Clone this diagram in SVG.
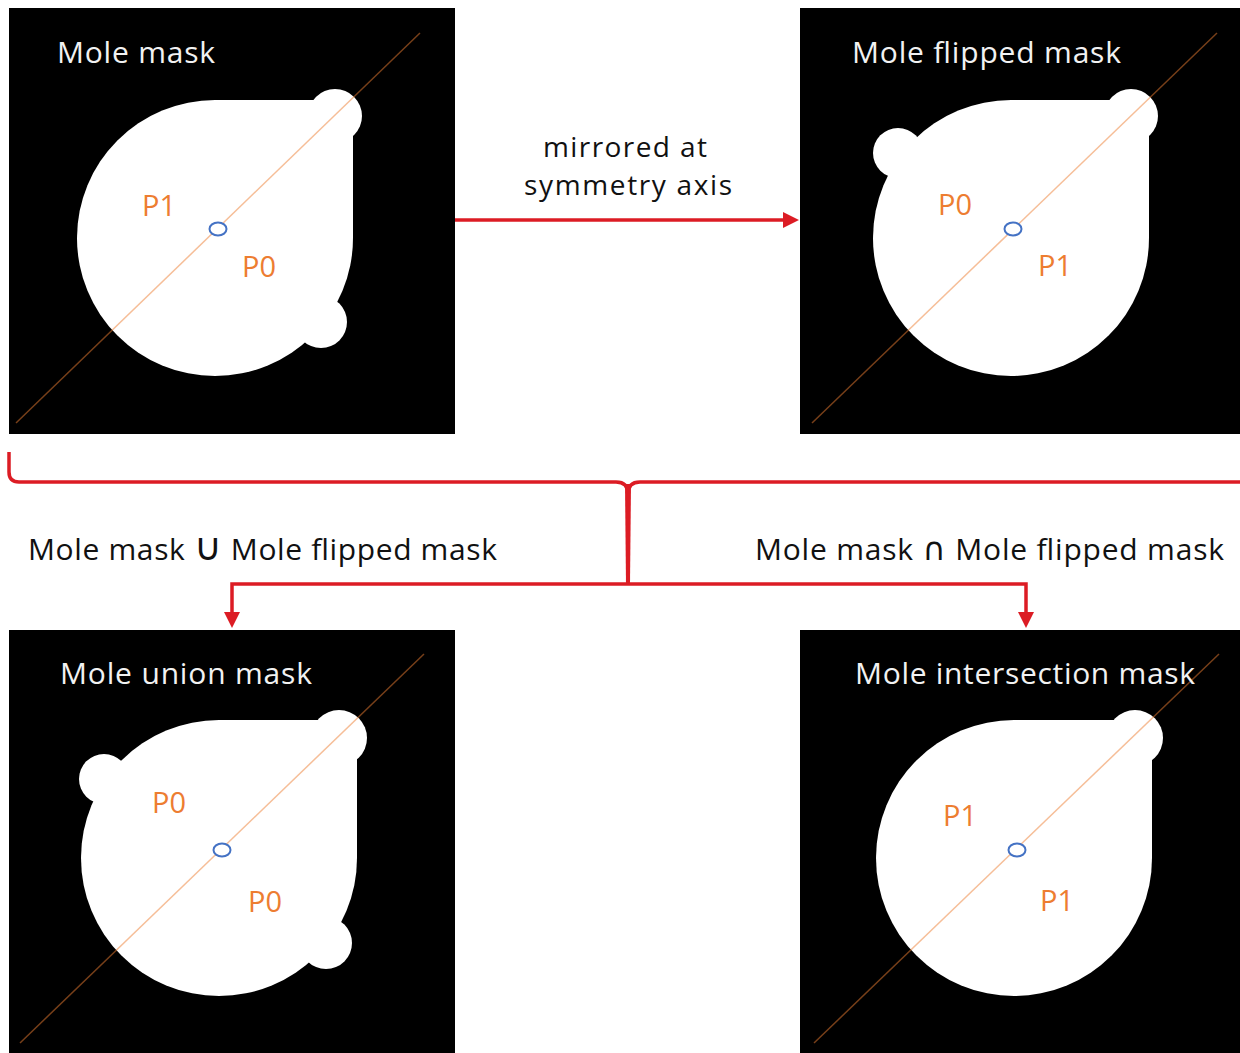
<svg xmlns="http://www.w3.org/2000/svg" width="1240" height="1053" viewBox="0 0 1240 1053">
<defs>
<style>
.panel{fill:#000}
.blob{fill:#fff}
.axis{stroke:#ED7D31;stroke-opacity:0.5;stroke-width:1.5;fill:none}
.ctr{fill:#fff;stroke:#4472C4;stroke-width:2}
.title{font-family:"Open Sans","DejaVu Sans",sans-serif;font-size:30px;fill:#f2f2f2}
.p{font-family:"Open Sans","DejaVu Sans",sans-serif;font-size:29px;fill:#ED7D31}
.lbl{font-family:"Open Sans","DejaVu Sans",sans-serif;font-size:30px;fill:#111}
.mid{font-family:"Open Sans","DejaVu Sans",sans-serif;font-size:28px;fill:#111}
.op{font-family:"DejaVu Sans",sans-serif}
.con{stroke:#DC1C24;stroke-width:3.5;fill:none}
</style>
<marker id="ah" viewBox="0 0 16 16" refX="8" refY="8" markerWidth="16" markerHeight="16" markerUnits="userSpaceOnUse" orient="auto">
<path d="M0,0 L16,8 L0,16 Z" fill="#DC1C24"/>
</marker>
</defs>

<g id="mole-mask">
<rect class="panel" x="9" y="8" width="446" height="426"/>
<path class="blob" d="M215,100 H353 V238 A138,138 0 1 1 215,100 Z"/>
<circle class="blob" cx="335" cy="116" r="27"/>
<circle class="blob" cx="321" cy="322" r="26"/>
<line class="axis" x1="16" y1="423" x2="420" y2="33"/>
<ellipse class="ctr" cx="218" cy="229" rx="8.5" ry="6.5"/>
<text class="title" x="57" y="63" textLength="158">Mole mask</text>
<text class="p" x="142" y="216">P1</text>
<text class="p" x="242" y="277">P0</text>
</g>

<g id="mole-flipped-mask">
<rect class="panel" x="800" y="8" width="440" height="426"/>
<path class="blob" d="M1011,100 H1149 V238 A138,138 0 1 1 1011,100 Z"/>
<circle class="blob" cx="1131" cy="116" r="27"/>
<circle class="blob" cx="898" cy="153" r="25"/>
<line class="axis" x1="812" y1="423" x2="1217" y2="33"/>
<ellipse class="ctr" cx="1013" cy="229" rx="8.5" ry="6.5"/>
<text class="title" x="852" y="63" textLength="269">Mole flipped mask</text>
<text class="p" x="938" y="215">P0</text>
<text class="p" x="1038" y="276">P1</text>
</g>

<g id="mole-union-mask">
<rect class="panel" x="9" y="630" width="446" height="423"/>
<path class="blob" d="M219,720 H357 V858 A138,138 0 1 1 219,720 Z"/>
<circle class="blob" cx="339" cy="738" r="28"/>
<circle class="blob" cx="104" cy="779" r="25"/>
<circle class="blob" cx="326" cy="943" r="26"/>
<line class="axis" x1="20" y1="1043" x2="424" y2="654"/>
<ellipse class="ctr" cx="222" cy="850" rx="8.5" ry="6.5"/>
<text class="title" x="60" y="684" textLength="252">Mole union mask</text>
<text class="p" x="152" y="813">P0</text>
<text class="p" x="248" y="912">P0</text>
</g>

<g id="mole-intersection-mask">
<rect class="panel" x="800" y="630" width="440" height="423"/>
<path class="blob" d="M1014,720 H1152 V858 A138,138 0 1 1 1014,720 Z"/>
<circle class="blob" cx="1135" cy="738" r="28"/>
<line class="axis" x1="814" y1="1043" x2="1219" y2="654"/>
<ellipse class="ctr" cx="1017" cy="850" rx="8.5" ry="6.5"/>
<text class="title" x="855" y="684" textLength="340">Mole intersection mask</text>
<text class="p" x="943" y="826">P1</text>
<text class="p" x="1040" y="911">P1</text>
</g>

<g id="connectors">
<line class="con" x1="455" y1="220" x2="791" y2="220" marker-end="url(#ah)"/>
<path class="con" d="M9,452 V472 Q9,482 19,482 H616 Q628,482 628,494 Q628,482 640,482 H1240"/>
<path d="M625,484 L631,484 L630,584 L626,584 Z" fill="#DC1C24"/>
<path class="con" d="M628,584 H232 V620" marker-end="url(#ah)"/>
<path class="con" d="M628,584 H1026 V620" marker-end="url(#ah)"/>
</g>

<g id="labels">
<text class="mid" x="625" y="157" text-anchor="middle" textLength="164">mirrored at</text>
<text class="mid" x="628" y="195" text-anchor="middle" textLength="208">symmetry axis</text>
<text class="lbl" x="28" y="560" textLength="469">Mole mask <tspan class="op" font-size="38">∪</tspan> Mole flipped mask</text>
<text class="lbl" x="755" y="560" textLength="469">Mole mask <tspan class="op" font-size="32">∩</tspan> Mole flipped mask</text>
</g>
</svg>
